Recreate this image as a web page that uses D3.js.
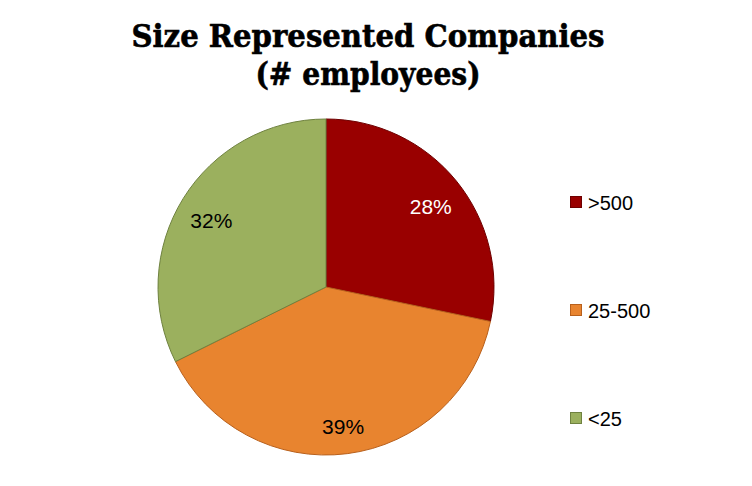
<!DOCTYPE html>
<html>
<head>
<meta charset="utf-8">
<script src="https://cdn.jsdelivr.net/npm/d3@7"></script>
<style>
  body { margin: 0; background: #fff; }
</style>
</head>
<body>
<div id="chart"></div>
<script>
// chart data
var categories = [">500", "25-500", "<25"];
var shares = [28, 39, 32];
var sliceColors = ["#990000", "#E8842F", "#9BB05E"];
var strokeColors = ["#6e0000", "#b8601c", "#6f8240"];
var labelColors = ["#fff", "#000", "#000"];

// set the dimensions of the graph
var width = 752,
  height = 486,
  cx = 326,
  cy = 287,
  radius = 168,
  labelOffset = 135;

var svg = d3
  .select("#chart")
  .append("svg")
  .attr("width", width)
  .attr("height", height);

// title
var title = svg
  .append("text")
  .attr("text-anchor", "middle")
  .style("font-family", "'DejaVu Serif', serif")
  .style("font-weight", "bold")
  .style("font-size", "31px")
  .style("stroke", "#000")
  .style("stroke-width", "0.6px")
  .attr("fill", "#000");
title
  .append("tspan")
  .attr("x", 368)
  .attr("y", 47)
  .attr("textLength", 473)
  .attr("lengthAdjust", "spacingAndGlyphs")
  .text("Size Represented Companies");
title
  .append("tspan")
  .attr("x", 368)
  .attr("y", 85)
  .attr("textLength", 225)
  .attr("lengthAdjust", "spacingAndGlyphs")
  .text("(# employees)");

var data = categories.map(function (c, i) {
  return { name: c, value: shares[i], i: i };
});

// Compute the position of each group on the pie, keep original order
var pie = d3
  .pie()
  .value(function (d) {
    return d.value;
  })
  .sort(null);

var data_ready = pie(data);

var arcGenerator = d3.arc().innerRadius(0).outerRadius(radius);
var arcLabel = d3.arc().innerRadius(labelOffset).outerRadius(labelOffset);

var g = svg.append("g").attr("transform", `translate(${cx}, ${cy})`);

g.selectAll("path")
  .data(data_ready)
  .enter()
  .append("path")
  .attr("d", arcGenerator)
  .attr("fill", function (d) {
    return sliceColors[d.data.i];
  })
  .attr("stroke", function (d) {
    return strokeColors[d.data.i];
  })
  .attr("stroke-width", 1);

// percentage labels
g.selectAll("text")
  .data(data_ready)
  .enter()
  .append("text")
  .text(function (d) {
    return d.data.value + "%";
  })
  .attr("transform", function (d) {
    return "translate(" + arcLabel.centroid(d) + ")";
  })
  .attr("dy", "0.6em")
  .style("text-anchor", "middle")
  .style("font-family", "'Liberation Sans', Arial, sans-serif")
  .style("font-size", "21px")
  .attr("fill", function (d) {
    return labelColors[d.data.i];
  });

// legend
var legendY = d3.scalePoint().domain(categories).range([202, 418]);

var legend = svg
  .selectAll(".legend")
  .data(data)
  .enter()
  .append("g")
  .attr("class", "legend")
  .attr("transform", function (d) {
    return "translate(570," + legendY(d.name) + ")";
  });

legend
  .append("rect")
  .attr("x", 0.5)
  .attr("y", -5.5)
  .attr("width", 11)
  .attr("height", 11)
  .attr("fill", function (d) {
    return sliceColors[d.i];
  })
  .attr("stroke", function (d) {
    return strokeColors[d.i];
  })
  .attr("stroke-width", 1);

legend
  .append("text")
  .attr("x", 18)
  .attr("y", 1)
  .attr("dy", "0.35em")
  .style("font-family", "'Liberation Sans', Arial, sans-serif")
  .style("font-size", "20px")
  .attr("fill", "#000")
  .text(function (d) {
    return d.name;
  });
</script>
</body>
</html>
